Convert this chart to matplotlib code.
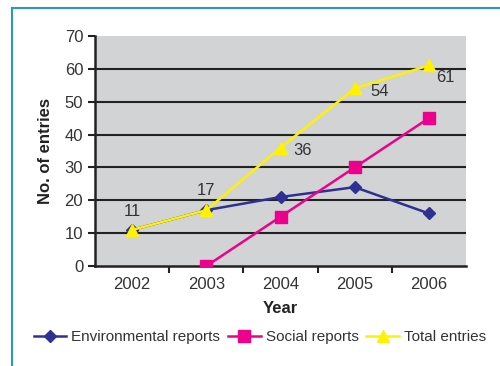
import matplotlib.pyplot as plt
from matplotlib.lines import Line2D

years = ["2002", "2003", "2004", "2005", "2006"]
environmental = [11, 17, 21, 24, 16]
social = [None, 0, 15, 30, 45]
total = [11, 17, 36, 54, 61]

plt.rcParams["font.family"] = ["Liberation Sans", "DejaVu Sans"]

fig = plt.figure(figsize=(5, 3.66), dpi=100)
ax = fig.add_axes([0.19, 0.273, 0.742, 0.629])
ax.set_facecolor("#d2d3d5")

x = list(range(len(years)))
sx = [i for i, v in zip(x, social) if v is not None]
sv = [v for v in social if v is not None]

ax.plot(x, environmental, color="#2e3192", marker="D", markersize=6, lw=1.8,
        label="Environmental reports", zorder=3)
ax.plot(sx, sv, color="#ec008c", marker="s", markersize=8, lw=1.8,
        label="Social reports", zorder=4)
ax.plot(x, total, color="#fff200", marker="^", markersize=9, lw=1.8,
        label="Total entries", zorder=5)

# value labels on the total line (offsets in points)
offsets = [(0, 13), (0, 14), (9, -2), (11, -2), (5, -9)]
for i, v in enumerate(total):
    dx, dy = offsets[i]
    ax.annotate(str(v), (i, v), xytext=(dx, dy), textcoords="offset points",
                ha="center" if dx == 0 else "left", va="center",
                fontsize=12, color="#333333", zorder=6)

ax.set_xlim(-0.5, len(years) - 0.5)
ax.set_ylim(0, 70)
ax.set_yticks(range(0, 71, 10))
ax.set_xticks(x)
ax.set_xticklabels(years)
ax.set_xticks([i + 0.5 for i in range(len(years) - 1)], minor=True)
ax.tick_params(axis="x", which="major", length=0, pad=8, labelsize=12, colors="#333333")
ax.tick_params(axis="x", which="minor", length=5, width=1.5, direction="out", color="#222222")
ax.tick_params(axis="y", length=5, width=1.5, direction="out", labelsize=12,
               colors="#333333", color="#222222")

for y in range(10, 70, 10):
    ax.axhline(y, color="#222222", lw=1.5, zorder=1)

for side in ["top", "right"]:
    ax.spines[side].set_visible(False)
for side in ["left", "bottom"]:
    ax.spines[side].set_linewidth(1.8)
    ax.spines[side].set_color("#222222")

ax.set_xlabel("Year", fontsize=12, fontweight="bold", color="#222222", labelpad=6)
ax.set_ylabel("No. of entries", fontsize=12, fontweight="bold", color="#222222", labelpad=8)

fig.legend(loc="center", bbox_to_anchor=(0.52, 0.078), ncol=3, frameon=False,
           fontsize=11, handlelength=2.15, handletextpad=0.33, columnspacing=0.5,
           labelcolor="#333333")

# frame lines along the top and left edge
fig.add_artist(Line2D([0.024, 1.0], [0.978, 0.978], color="#2a98c2", lw=1.5))
fig.add_artist(Line2D([0.024, 0.024], [0.0, 0.978], color="#2a98c2", lw=1.5))

fig.savefig("out.png", dpi=100)
